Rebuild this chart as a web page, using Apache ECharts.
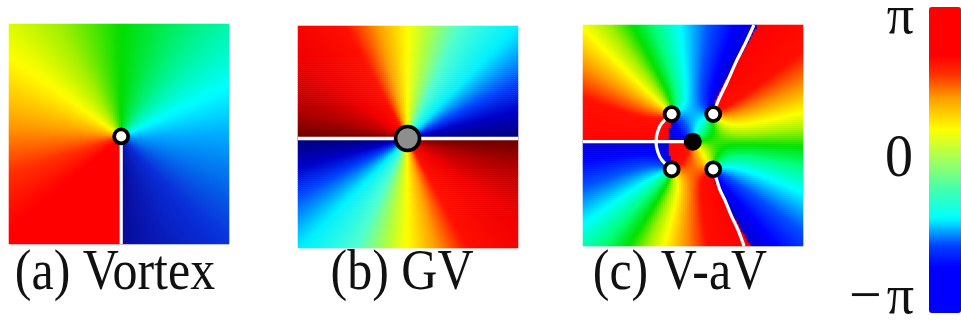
<!DOCTYPE html>
<html>
<head>
<meta charset="utf-8">
<script src="https://cdn.jsdelivr.net/npm/echarts@6/dist/echarts.min.js"></script>
<style>
  html, body { margin: 0; padding: 0; background: #ffffff; }
  #chart { width: 961px; height: 322px; }
</style>
</head>
<body>
<div id="chart"></div>
<script>
const PI = Math.PI;

// Panel captions and colour-bar tick labels
const captions = ['(a) Vortex', '(b) GV', '(c) V-aV'];
const barTicks = ['π', '0', '−π'];

// Phase singularities, panel units (0–100 across, y upward): [x, y, winding number]
const singularA = [[51.0, 48.9, 1]];
const singularB = [[49.8, 49.3, 2]];
const singularC = [
  [49.9, 47.2, -1],
  [40.3, 59.7, 1], [59.2, 59.7, 1],
  [40.3, 34.7, 1], [59.2, 34.7, 1]
];

// Global phase of each panel (radians)
const phaseA = -PI / 2;
const phaseB = -PI;
const phaseC = 0;

// Lines where the wrapped phase jumps by 2π
const cutA = [[51.0, 48.9], [51.0, 0]];
const cutB = [[0, 49.3], [100, 49.3]];
const cutC1 = [[0, 47.2], [49.9, 47.2]];
const cutC2 = [[40.3, 59.7], [35.8, 55.5], [33.9, 51.6], [33.2, 47.2], [33.9, 43.0], [35.8, 38.9], [40.3, 34.7]];
const cutC3 = [[59.2, 59.7], [61.4, 65.6], [65.5, 74.2], [70.0, 84.2], [74.1, 92.3], [77.7, 100]];
const cutC4 = [[59.2, 34.7], [60.5, 30.8], [62.3, 25.3], [64.5, 20.8], [67.3, 14.0], [70.5, 7.2], [73.2, 0]];

// ---- layout and style ----
const CELLS = 110;
const panels = [
  { left: 9,   top: 24, width: 220, height: 220 },
  { left: 298, top: 26, width: 220, height: 222 },
  { left: 583, top: 25, width: 220, height: 221 }
];
const captionX = [115, 402, 680];
const captionY = 274;
const serif = '"Liberation Serif", "Times New Roman", serif';

const stopsA = [[0, '#0a0a9a'], [0.12, '#0a2fd8'], [0.25, '#00a8ff'], [0.32, '#00ffff'], [0.42, '#00f070'],
  [0.5, '#00dd00'], [0.58, '#a0f000'], [0.65, '#ffff00'], [0.73, '#ffa000'], [0.8, '#ff3000'], [0.86, '#ff0000'], [1, '#ff0000']];
const stopsB = [[0, '#00007a'], [0.08, '#0000c8'], [0.15, '#0040ff'], [0.25, '#00f0ff'], [0.36, '#50ffd0'],
  [0.44, '#b0ff40'], [0.5, '#ffff00'], [0.58, '#ffa000'], [0.66, '#ff1000'], [0.8, '#f00000'], [0.92, '#b00000'], [1, '#6a0000']];
const stopsC = [[0, '#0000d0'], [0.08, '#0000ff'], [0.18, '#0050ff'], [0.3, '#00ffff'], [0.4, '#00ff80'],
  [0.48, '#00e000'], [0.55, '#a0f000'], [0.62, '#ffff00'], [0.72, '#ff9000'], [0.82, '#ff1000'], [1, '#ff0000']];
const stopsBar = [[0, '#0000ff'], [0.15, '#0000ff'], [0.22, '#0040ff'], [0.31, '#00ffff'], [0.4, '#40ffb0'],
  [0.48, '#90ff70'], [0.55, '#d0ff30'], [0.6, '#ffff00'], [0.7, '#ffa000'], [0.78, '#ff3000'], [0.84, '#ff0000'], [1, '#ff0000']];

function hexToRgb(h) {
  return [parseInt(h.slice(1, 3), 16), parseInt(h.slice(3, 5), 16), parseInt(h.slice(5, 7), 16)];
}
// Sample a piecewise-linear colour ramp into n evenly spaced colours
function ramp(stops, n) {
  const out = [];
  for (let k = 0; k < n; k++) {
    const t = k / (n - 1);
    let s = 0;
    while (s < stops.length - 2 && t > stops[s + 1][0]) s++;
    const [t0, c0] = stops[s], [t1, c1] = stops[s + 1];
    const f = t1 === t0 ? 0 : Math.min(1, Math.max(0, (t - t0) / (t1 - t0)));
    const a = hexToRgb(c0), b = hexToRgb(c1);
    out.push('rgb(' + a.map((v, i) => Math.round(v + (b[i] - v) * f)).join(',') + ')');
  }
  return out;
}

// Wrapped phase of a field with the given singularities, sampled on a cell grid
function phaseCells(singular, phase0) {
  const out = [];
  for (let j = 0; j < CELLS; j++) {
    for (let i = 0; i < CELLS; i++) {
      const x = (i + 0.5) * 100 / CELLS, y = (j + 0.5) * 100 / CELLS;
      let p = phase0;
      for (const [sx, sy, q] of singular) p += q * Math.atan2(y - sy, x - sx);
      p -= 2 * PI * Math.floor((p + PI) / (2 * PI));
      out.push([i, j, p]);
    }
  }
  return out;
}

const cellNames = Array.from({ length: CELLS }, (_, i) => String(i));

const grids = [], xAxes = [], yAxes = [];
panels.forEach(p => grids.push(Object.assign({}, p)));
panels.forEach(p => grids.push(Object.assign({}, p)));
for (let g = 0; g < 3; g++) {
  xAxes.push({ type: 'category', gridIndex: g, data: cellNames, show: false });
  yAxes.push({ type: 'category', gridIndex: g, data: cellNames, show: false });
}
for (let g = 0; g < 3; g++) {
  xAxes.push({ type: 'value', gridIndex: g + 3, min: 0, max: 100, show: false });
  yAxes.push({ type: 'value', gridIndex: g + 3, min: 0, max: 100, show: false });
}

const fields = [[singularA, phaseA], [singularB, phaseB], [singularC, phaseC]];
const series = fields.map((f, k) => ({
  type: 'heatmap', xAxisIndex: k, yAxisIndex: k,
  data: phaseCells(f[0], f[1]), progressive: 0, silent: true,
  emphasis: { disabled: true }
}));
// series for the colour bar
series.push({ type: 'heatmap', xAxisIndex: 0, yAxisIndex: 0, data: [], silent: true });

const cutLine = (pts, axis, smooth, w) => ({
  type: 'line', xAxisIndex: axis, yAxisIndex: axis, data: pts, symbol: 'none', smooth: smooth || false,
  lineStyle: { color: '#ffffff', width: w || 3 }, silent: true, z: 5, animation: false
});
series.push(cutLine(cutA, 3, false, 3.2), cutLine(cutB, 4, false, 3.6), cutLine(cutC1, 5, false, 3.2),
  cutLine(cutC2, 5, 0.5, 3.2), cutLine(cutC3, 5, 0.3, 3.2), cutLine(cutC4, 5, 0.3, 3.2));

const marks = (singular, axis) => singular.map(([x, y, q]) => {
  let size = 14, fill = '#ffffff', bw = 3.8;
  if (q < 0) { size = 18; fill = '#000000'; bw = 0; }
  if (q > 1) { size = 24; fill = '#8e8e8e'; bw = 3.6; }
  return {
    type: 'scatter', xAxisIndex: axis, yAxisIndex: axis, data: [[x, y]], symbolSize: size,
    itemStyle: { color: fill, borderColor: '#000000', borderWidth: bw, opacity: 1 }, silent: true, z: 6
  };
});
series.push(...marks(singularA, 3), ...marks(singularB, 4), ...marks(singularC, 5));

const graphic = captions.map((t, k) => ({
  type: 'text', x: captionX[k], y: captionY, scaleY: 1.12, silent: true,
  style: { text: t, font: '50px ' + serif, fill: '#111111', align: 'center', verticalAlign: 'middle' }
}));
graphic.push(
  { type: 'text', x: 914, y: 19, silent: true,
    style: { text: barTicks[0], font: '54px ' + serif, fill: '#111', align: 'right', verticalAlign: 'middle' } },
  { type: 'text', x: 913, y: 160, scaleY: 1.08, silent: true,
    style: { text: barTicks[1], font: '56px ' + serif, fill: '#111', align: 'right', verticalAlign: 'middle' } },
  { type: 'text', x: 914, y: 299, silent: true,
    style: {
      text: '{m|' + barTicks[2].charAt(0) + '}{p|' + barTicks[2].slice(1) + '}',
      align: 'right', verticalAlign: 'middle',
      rich: {
        m: { font: '58px ' + serif, fill: '#111', padding: [0, 5, 0, 0] },
        p: { font: '54px ' + serif, fill: '#111' }
      }
    } }
);

const chart = echarts.init(document.getElementById('chart'), null, { renderer: 'canvas' });
chart.setOption({
  backgroundColor: '#ffffff',
  animation: false,
  grid: grids,
  xAxis: xAxes,
  yAxis: yAxes,
  visualMap: [
    { type: 'continuous', show: false, seriesIndex: 0, min: -PI, max: PI, inRange: { color: ramp(stopsA, 96) } },
    { type: 'continuous', show: false, seriesIndex: 1, min: -PI, max: PI, inRange: { color: ramp(stopsB, 96) } },
    { type: 'continuous', show: false, seriesIndex: 2, min: -PI, max: PI, inRange: { color: ramp(stopsC, 96) } },
    {
      type: 'continuous', show: true, seriesIndex: 3, min: -PI, max: PI, calculable: false, hoverLink: false,
      left: 929, top: 7, itemWidth: 32, itemHeight: 306, padding: 0, text: null, showLabel: false,
      inRange: { color: ramp(stopsBar, 96) }
    }
  ],
  series: series,
  graphic: graphic
});
</script>
</body>
</html>
